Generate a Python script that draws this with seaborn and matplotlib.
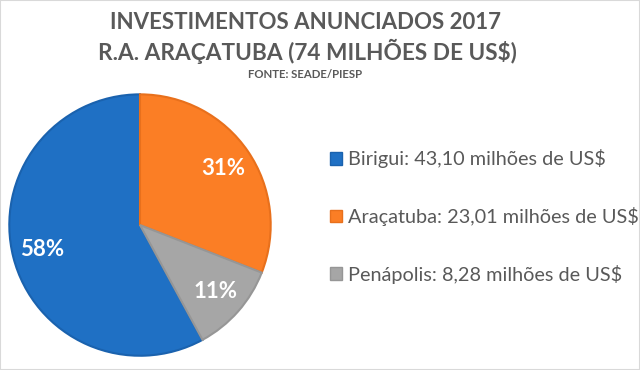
import matplotlib
matplotlib.use('Agg')
import matplotlib.pyplot as plt
import matplotlib.patches as mpatches
import seaborn as sns

# dados (milhões de US$)
cidades = ['Birigui', 'Araçatuba', 'Penápolis']
valores = [43.10, 23.01, 8.28]
cores = ['#1F70C4', '#FB7E25', '#A6A6A6']
bordas = ['#1A62AE', '#E8701C', '#969696']

sns.set_theme(style='white')
plt.rcParams['font.family'] = ['Lato', 'DejaVu Sans']

cinza = '#595959'
total = sum(valores)

fig = plt.figure(figsize=(6.4, 3.7), dpi=100)
ax = fig.add_axes([0.0125, 0.035, 264 / 640, 264 / 370])

# Birigui termina no topo (sentido horário)
start = 90 + 360 * valores[0] / total
wedges, textos, pcts = ax.pie(
    valores, colors=cores, startangle=start, counterclock=False,
    autopct='%1.0f%%', pctdistance=0.77, radius=1,
    wedgeprops=dict(linewidth=1.5),
    textprops=dict(color='white', fontsize=16, fontweight='bold'))
for w, b in zip(wedges, bordas):
    w.set_edgecolor(b)
ax.set_xlim(-1.01, 1.01)
ax.set_ylim(-1.01, 1.01)
ax.axis('off')

fig.text(0.477, 0.940, 'INVESTIMENTOS ANUNCIADOS 2017', ha='center', va='center',
         fontsize=16, fontweight='bold', color=cinza)
fig.text(0.481, 0.862, r'R.A. ARAÇATUBA (74 MILHÕES DE US\$)', ha='center', va='center',
         fontsize=16.3, fontweight='bold', color=cinza)
fig.text(0.477, 0.800, 'FONTE: SEADE/PIESP', ha='center', va='center',
         fontsize=8.2, fontweight='bold', color=cinza)

rotulos = [f'{c}: {v:.2f}'.replace('.', ',') + r' milhões de US\$' for c, v in zip(cidades, valores)]
handles = [mpatches.Patch(facecolor=c, edgecolor=b, linewidth=1) for c, b in zip(cores, bordas)]
leg = fig.legend(handles, rotulos, loc='center left', bbox_to_anchor=(0.515, 0.415),
                 frameon=False, fontsize=14.3, labelspacing=1.95,
                 handlelength=0.6, handleheight=0.6, handletextpad=0.35,
                 borderpad=0, borderaxespad=0)
for t in leg.get_texts():
    t.set_color(cinza)

# borda clara da figura
fig.patches.append(mpatches.Rectangle((0, 0), 1, 1, transform=fig.transFigure,
                                      fill=False, edgecolor='#D9D9D9', linewidth=1.5))

fig.savefig('out.png', dpi=100)
